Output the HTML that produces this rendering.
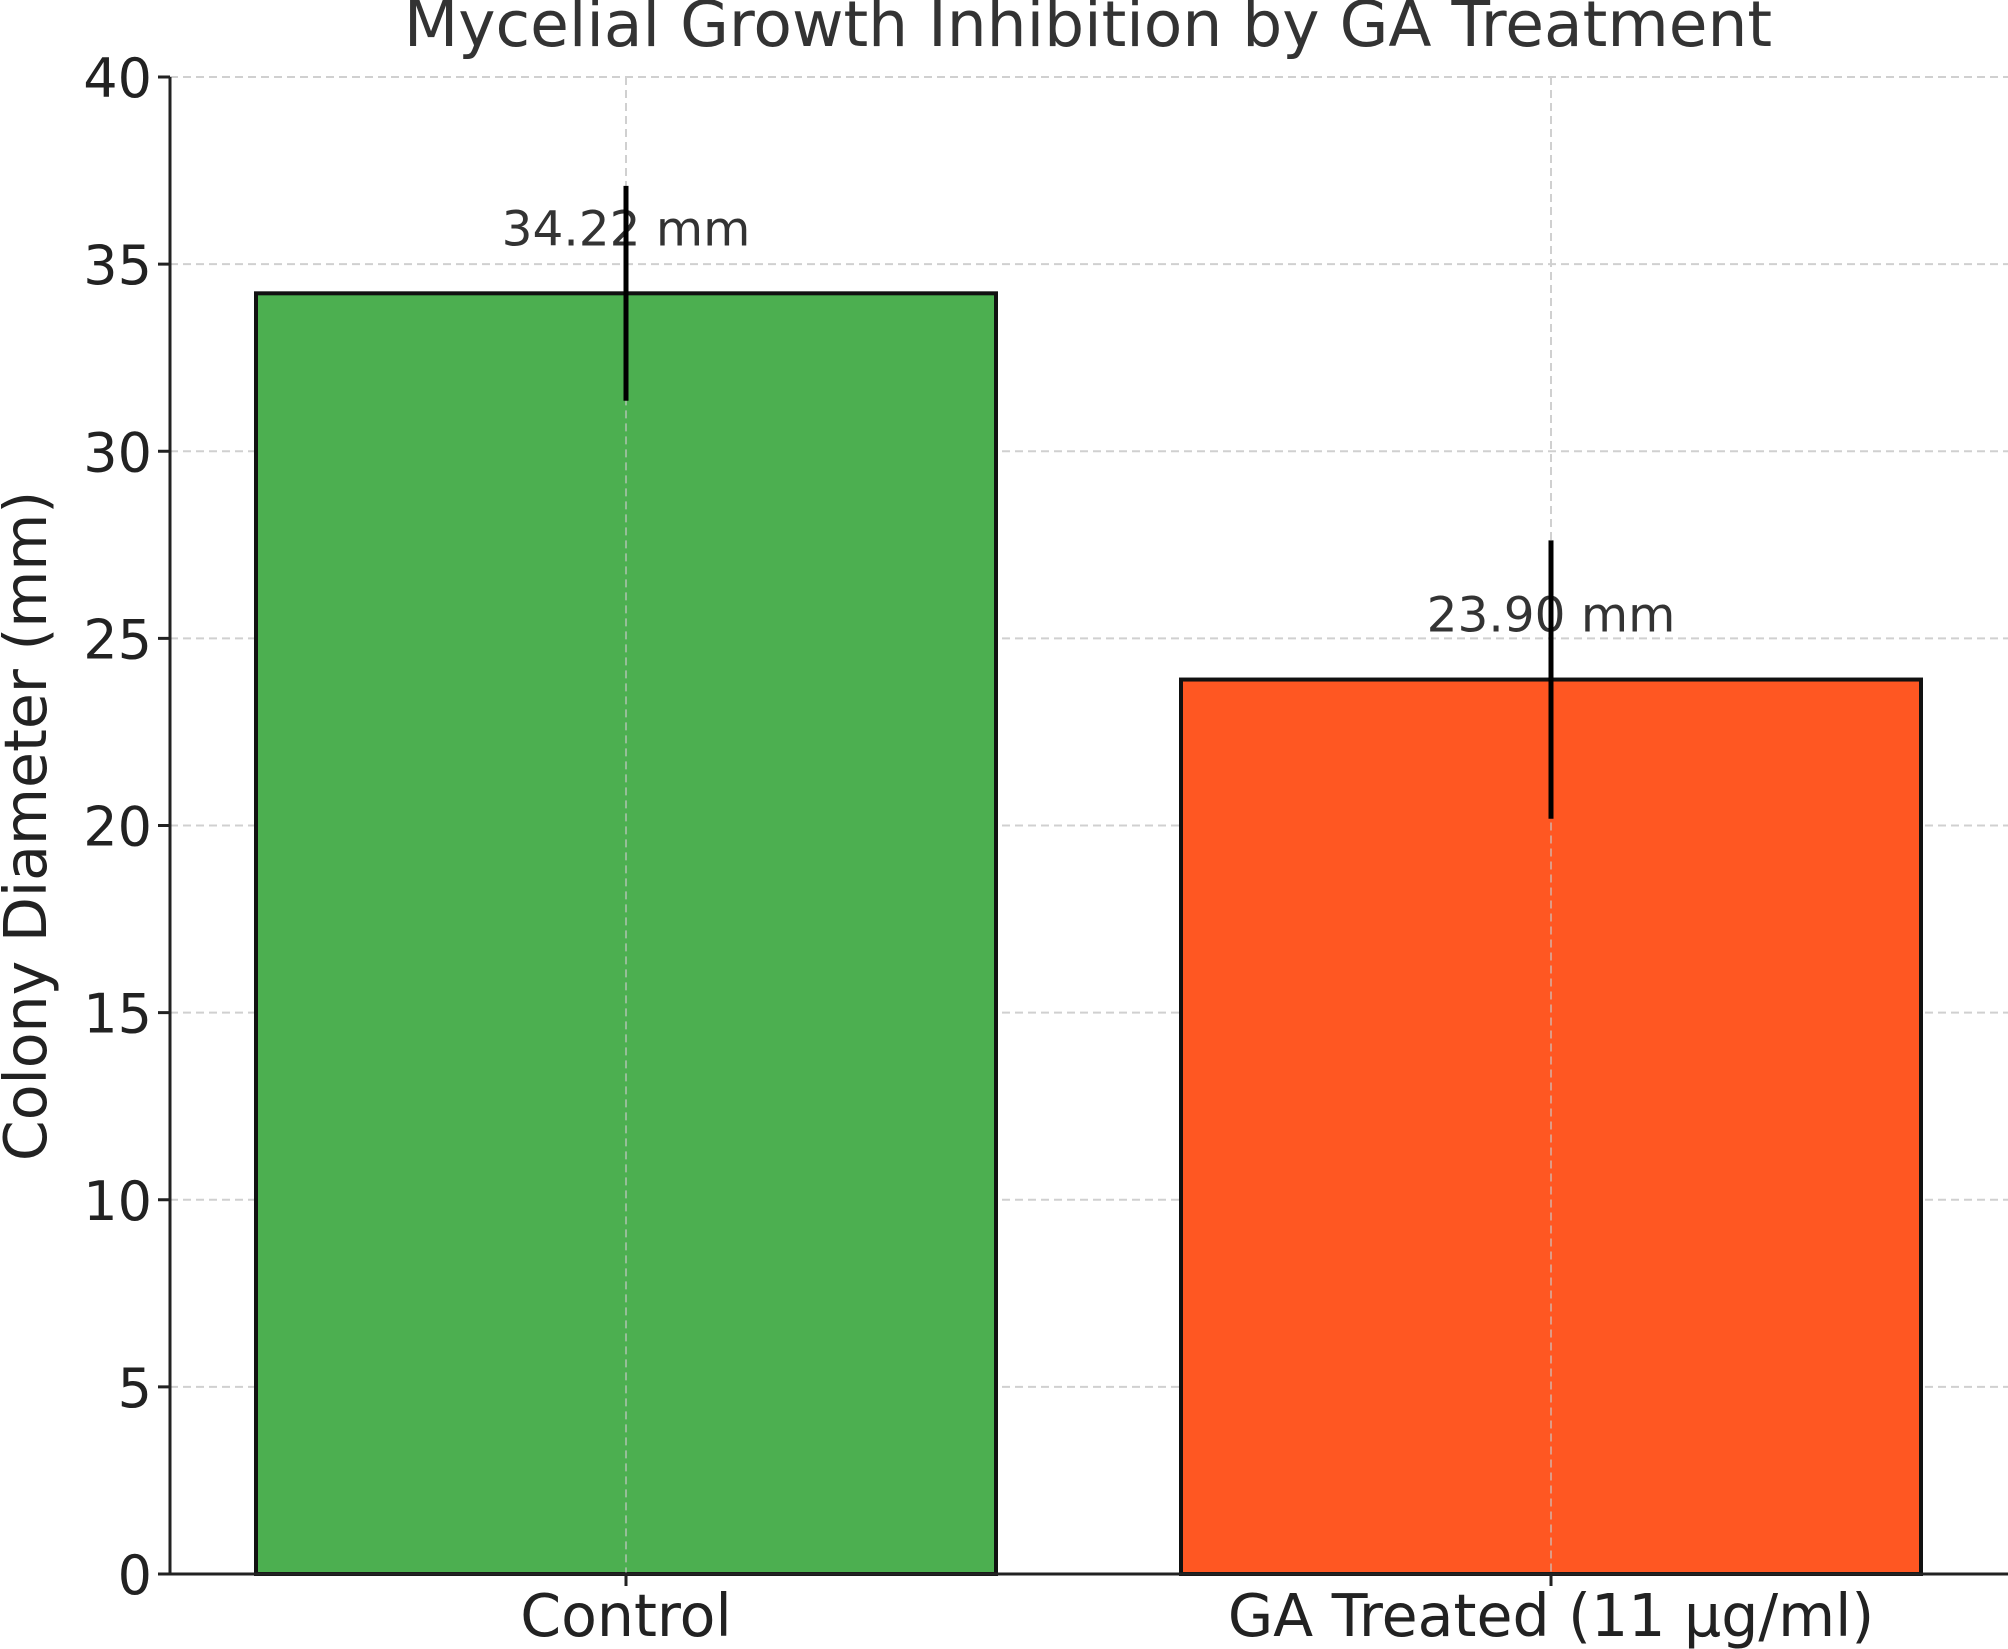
<!DOCTYPE html>
<html><head><meta charset="utf-8"><style>
html,body{margin:0;padding:0;background:#fff;}
svg{display:block;font-family:"DejaVu Sans","Liberation Sans",sans-serif;}
</style></head><body>
<svg id="chart" width="2008" height="1649" xmlns="http://www.w3.org/2000/svg"></svg>
<script>
const categories = ["Control", "GA Treated (11 µg/ml)"];
const values = [34.22, 23.90];
const errors = [2.87, 3.72];
const valueLabels = ["34.22 mm", "23.90 mm"];
const yTicks = [0, 5, 10, 15, 20, 25, 30, 35, 40];
const colors = ["#4caf50", "#ff5722"];

const NS = "http://www.w3.org/2000/svg";
const svg = document.getElementById("chart");
const x0 = 170, y0 = 1574, yTop = 77, xRight = 2008;
const yScale = v => y0 - (v / 40) * (y0 - yTop);
const unit = 925, barW = 740;
const xCenter = i => 626 + i * unit;

function mk(tag, attrs, parent) {
  const e = document.createElementNS(NS, tag);
  for (const k in attrs) e.setAttribute(k, attrs[k]);
  (parent || svg).appendChild(e);
  return e;
}

yTicks.forEach(t => {
  const g = mk("line", {x1: x0, x2: xRight, y1: yScale(t), y2: yScale(t), stroke: "#d0d0d0", "stroke-width": 2, "stroke-dasharray": "8,5"});
  
  
});
categories.forEach((c, i) => {
  const g = mk("line", {x1: xCenter(i), x2: xCenter(i), y1: yTop, y2: y0, stroke: "#d0d0d0", "stroke-width": 2, "stroke-dasharray": "8,5"});
  
  
});

categories.forEach((c, i) => {
  const r = mk("rect", {x: xCenter(i) - barW / 2, y: yScale(values[i]), width: barW, height: y0 - yScale(values[i]), fill: colors[i], stroke: "#111", "stroke-width": 4});
  
  
  const lg = mk("line", {x1: xCenter(i), x2: xCenter(i), y1: yScale(values[i]), y2: y0, stroke: "rgba(200,200,200,0.6)", "stroke-width": 2, "stroke-dasharray": "8,5"});
  
  
});

categories.forEach((c, i) => {
  const t = mk("text", {x: xCenter(i), y: yScale(values[i]) - 48, "text-anchor": "middle", "font-size": 48.5, fill: "#333"});
  t.textContent = valueLabels[i];
  
  
  const e = mk("line", {x1: xCenter(i), x2: xCenter(i), y1: yScale(values[i] + errors[i]), y2: yScale(values[i] - errors[i]), stroke: "#000", "stroke-width": 5});
  
  
});

const ax = mk("line", {x1: x0, x2: x0, y1: yTop, y2: y0 + 1, stroke: "#222", "stroke-width": 3});


const bx = mk("line", {x1: x0, x2: xRight, y1: y0, y2: y0, stroke: "#222", "stroke-width": 3});



yTicks.forEach(t => {
  const tk = mk("line", {x1: x0 - 12, x2: x0, y1: yScale(t), y2: yScale(t), stroke: "#222", "stroke-width": 3});
  
  
  const l = mk("text", {x: x0 - 18, y: yScale(t) + 20, "text-anchor": "end", "font-size": 54, fill: "#222"});
  l.textContent = t;
  
  
});
categories.forEach((c, i) => {
  const tk = mk("line", {x1: xCenter(i), x2: xCenter(i), y1: y0, y2: y0 + 12, stroke: "#222", "stroke-width": 3});
  
  
  const l = mk("text", {x: xCenter(i), y: 1636, "text-anchor": "middle", "font-size": 58.5, fill: "#222"});
  l.textContent = c;
  
  
});

const yl = mk("text", {x: 0, y: 0, "text-anchor": "middle", "font-size": 58.5, fill: "#222", transform: "translate(46,826) rotate(-90)"});
yl.textContent = "Colony Diameter (mm)";



const tt = mk("text", {x: 1088, y: 46, "text-anchor": "middle", "font-size": 63, fill: "#333"});
tt.textContent = "Mycelial Growth Inhibition by GA Treatment";


</script>
</body></html>
